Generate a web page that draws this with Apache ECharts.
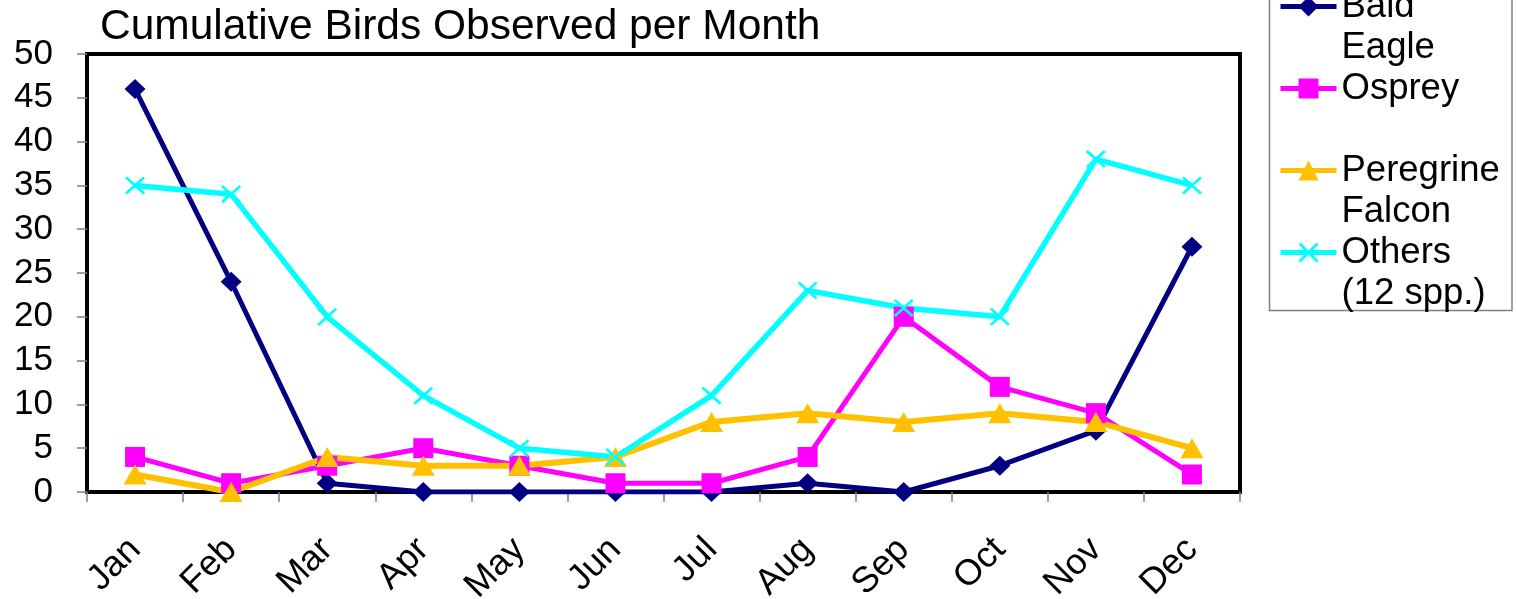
<!DOCTYPE html>
<html>
<head>
<meta charset="utf-8">
<title>Cumulative Birds Observed per Month</title>
<script src="https://cdn.jsdelivr.net/npm/echarts@6/dist/echarts.min.js"></script>
<style>
  html, body { margin: 0; padding: 0; background: #ffffff; }
  #chart { width: 1516px; height: 599px; }
</style>
</head>
<body>
<div id="chart"></div>
<script>
// Months along the category axis
const months = ['Jan', 'Feb', 'Mar', 'Apr', 'May', 'Jun', 'Jul', 'Aug', 'Sep', 'Oct', 'Nov', 'Dec'];

// Birds counted per month, by species group
const baldEagle = [46, 24, 1, 0, 0, 0, 0, 1, 0, 3, 7, 28];
const osprey = [4, 1, 3, 5, 3, 1, 1, 4, 20, 12, 9, 2];
const peregrineFalcon = [2, 0, 4, 3, 3, 4, 8, 9, 8, 9, 8, 5];
const others = [35, 34, 20, 11, 5, 4, 11, 23, 21, 20, 38, 35];

// Series names and how they wrap in the legend
const seriesNames = ['Bald Eagle', 'Osprey', 'Peregrine Falcon', 'Others (12 spp.)'];
const legendLines = {
  'Bald Eagle': ['Bald', 'Eagle'],
  'Osprey': ['Osprey', ''],
  'Peregrine Falcon': ['Peregrine', 'Falcon'],
  'Others (12 spp.)': ['Others', '(12 spp.)']
};

const FONT = '"Liberation Sans", Arial, Helvetica, sans-serif';
const CROSS = 'path://M0,1 L1,0 L10,9 L9,10 Z M9,0 L10,1 L1,10 L0,9 Z';
const LEGEND_LINE = 41;

const chart = echarts.init(document.getElementById('chart'), null, { renderer: 'canvas' });

function lineSeries(name, data, color, symbol, size, width) {
  return {
    name: name,
    type: 'line',
    data: data,
    symbol: symbol,
    symbolSize: size,
    showAllSymbol: true,
    lineStyle: { color: color, width: width },
    itemStyle: { color: color, opacity: 1 },
    emphasis: { disabled: true },
    animation: false
  };
}

chart.setOption({
  animation: false,
  backgroundColor: '#ffffff',
  textStyle: { fontFamily: FONT },
  title: {
    text: 'Cumulative Birds Observed per Month',
    left: 100,
    top: 6,
    padding: 0,
    textStyle: { fontFamily: FONT, fontSize: 42.5, fontWeight: 'normal', color: '#000000', lineHeight: 42 }
  },
  legend: {
    orient: 'vertical',
    left: 1278,
    top: -55,
    padding: 0,
    itemGap: -LEGEND_LINE,
    itemWidth: 56,
    itemHeight: 25,
    selectedMode: false,
    data: seriesNames,
    lineStyle: { width: 5 },
    // blank first line keeps each icon level with the first line of its name
    formatter: function (name) {
      const l = legendLines[name];
      return '\n' + l[0] + '\n' + l[1];
    },
    textStyle: { fontFamily: FONT, fontSize: 36.5, color: '#000000', lineHeight: LEGEND_LINE }
  },
  graphic: [{
    type: 'rect',
    shape: { x: 1269.5, y: -10, width: 242.5, height: 320.5 },
    style: { fill: 'none', stroke: '#808080', lineWidth: 1.5 },
    silent: true,
    z: 1
  }],
  grid: {
    left: 87,
    right: 276,
    top: 54,
    bottom: 107,
    outerBoundsMode: 'none',
    containLabel: false,
    show: true,
    backgroundColor: '#ffffff',
    borderColor: '#000000',
    borderWidth: 4
  },
  xAxis: {
    type: 'category',
    data: months,
    boundaryGap: true,
    axisLine: { show: false },
    axisTick: { show: true, length: 10, lineStyle: { color: '#808080', width: 1.5 } },
    axisLabel: {
      interval: 0,
      rotate: 45,
      margin: 52,
      fontFamily: FONT,
      fontSize: 36,
      color: '#000000'
    },
    splitLine: { show: false }
  },
  yAxis: {
    type: 'value',
    min: 0,
    max: 50,
    interval: 5,
    axisLine: { show: false },
    axisTick: { show: true, length: 10, lineStyle: { color: '#808080', width: 1.5 } },
    axisLabel: {
      margin: 34,
      fontFamily: FONT,
      fontSize: 35,
      color: '#000000'
    },
    splitLine: { show: false }
  },
  series: [
    lineSeries('Bald Eagle', baldEagle, '#000080', 'diamond', [21, 20], 5),
    lineSeries('Osprey', osprey, '#ff00ff', 'rect', [20, 20], 5),
    lineSeries('Peregrine Falcon', peregrineFalcon, '#ffc000', 'triangle', [23, 20], 6),
    lineSeries('Others (12 spp.)', others, '#00ffff', CROSS, [20, 18], 5.5)
  ]
});
</script>
</body>
</html>
